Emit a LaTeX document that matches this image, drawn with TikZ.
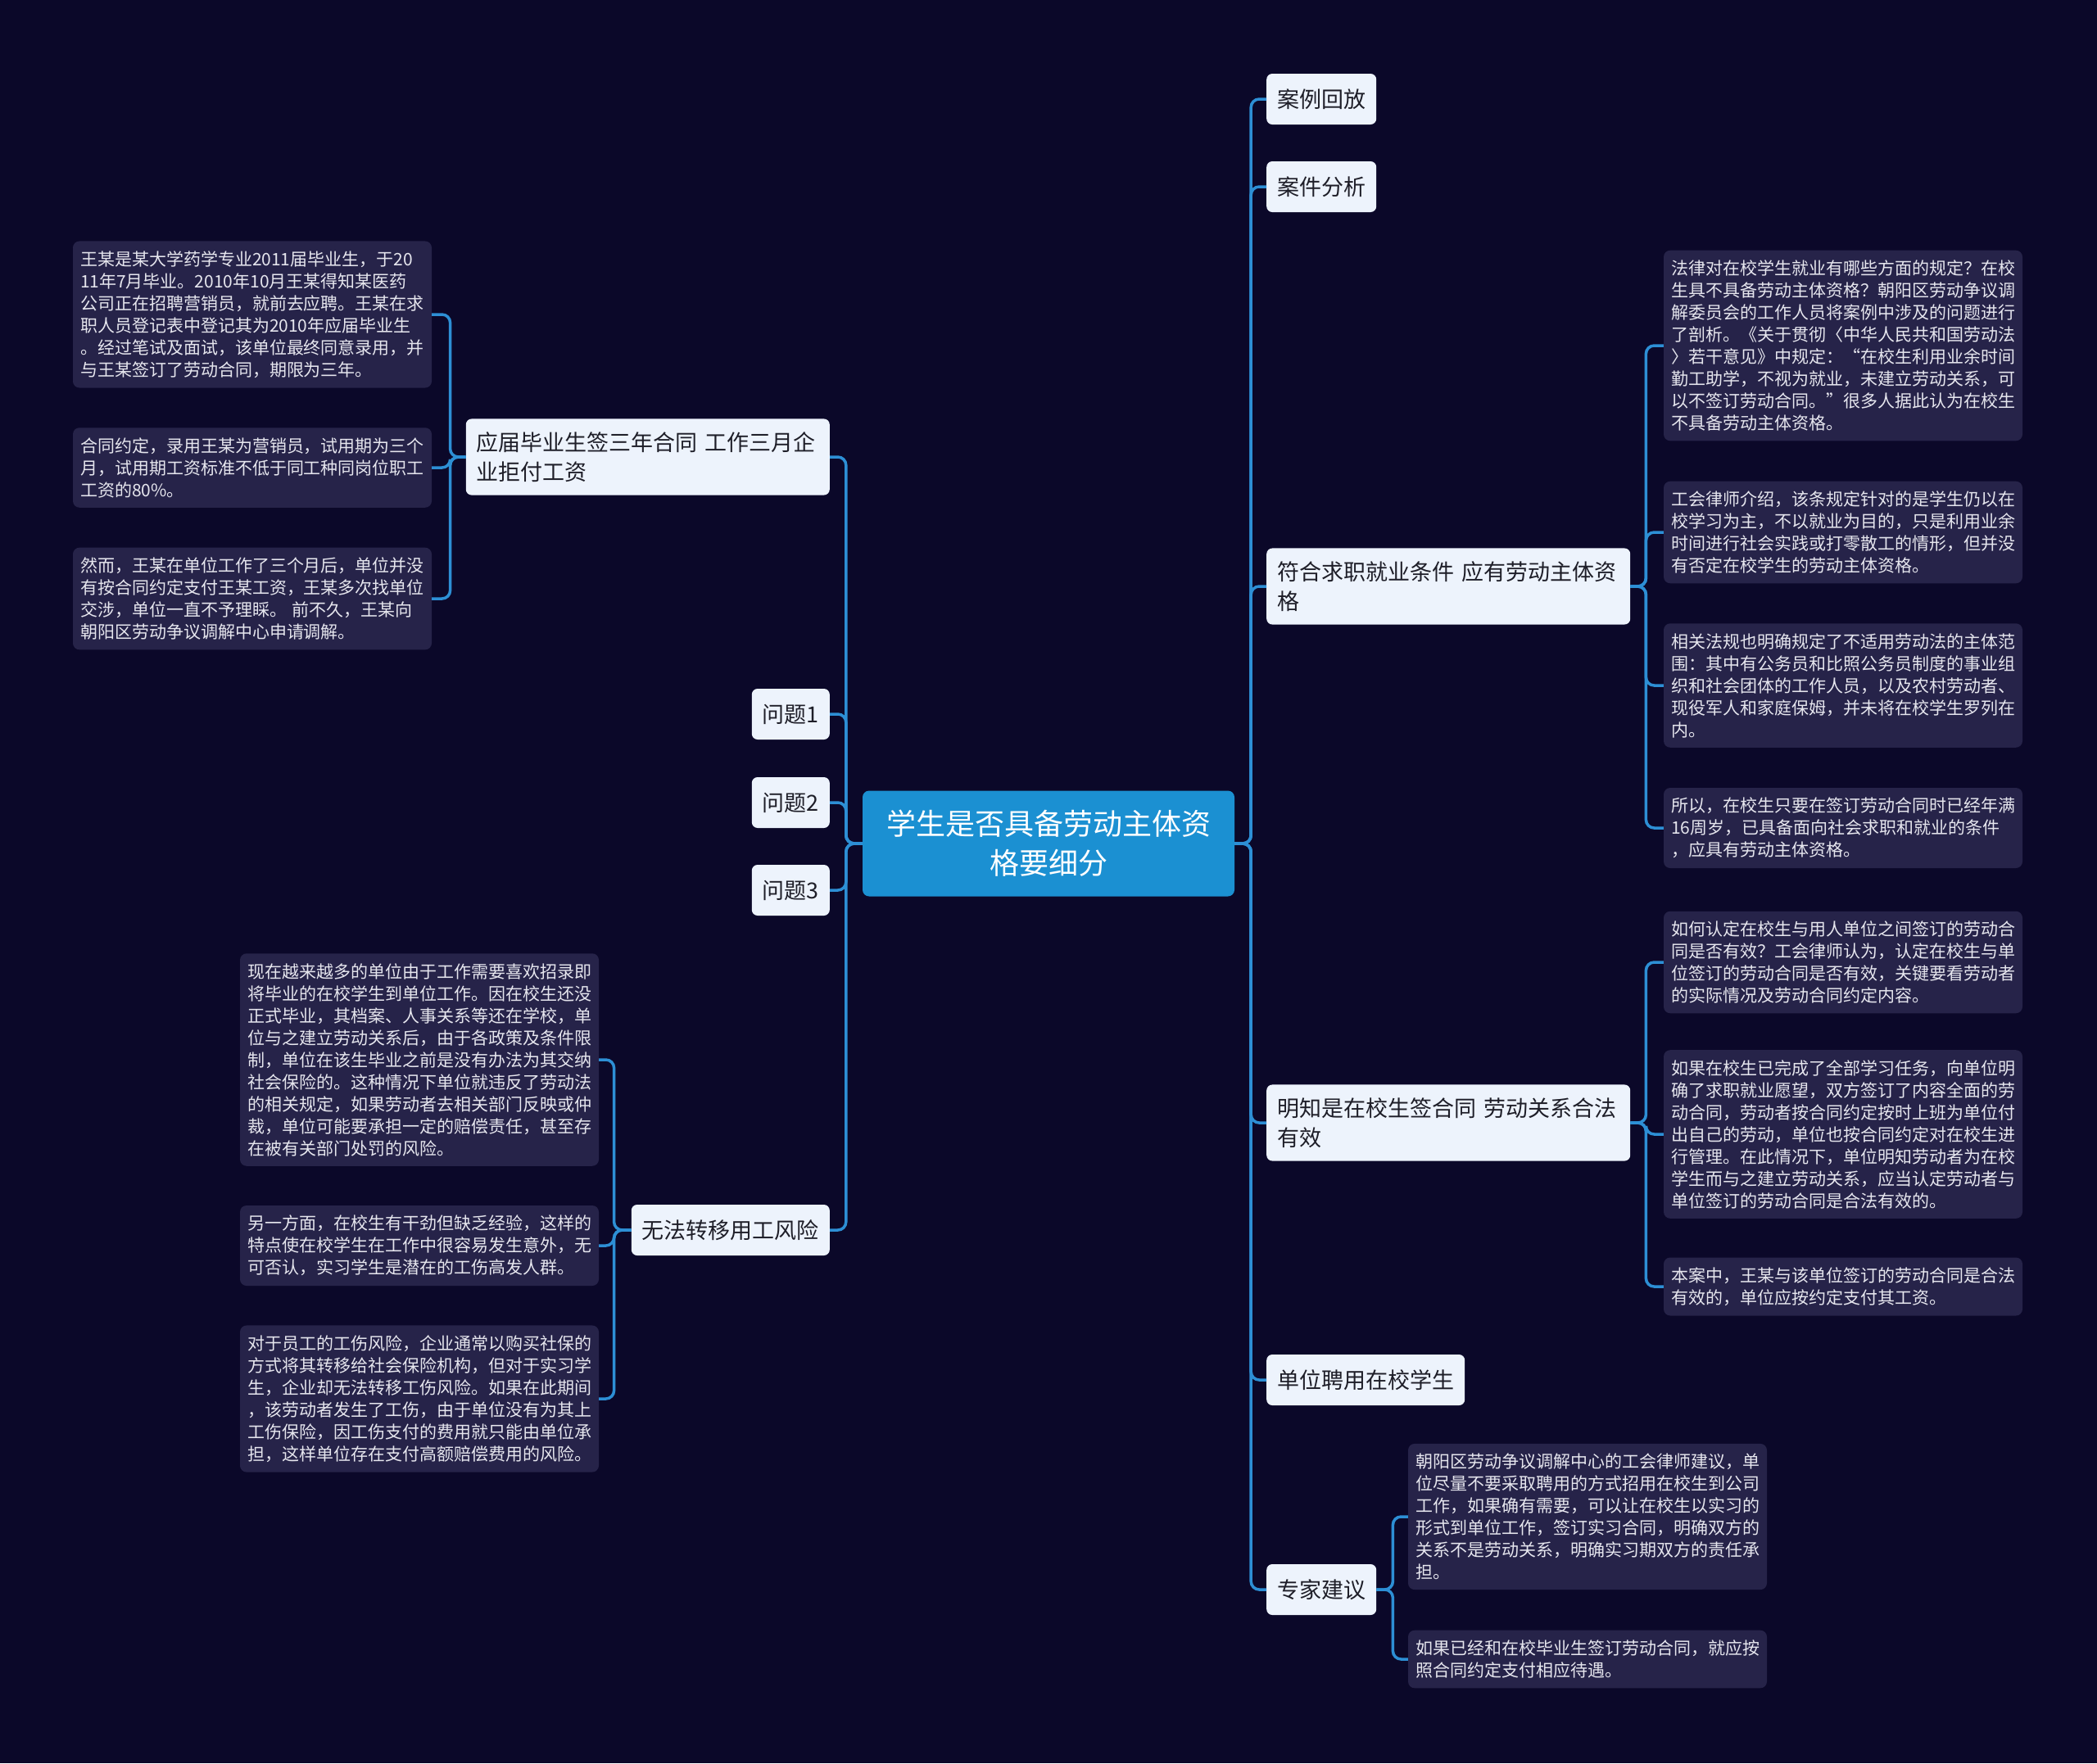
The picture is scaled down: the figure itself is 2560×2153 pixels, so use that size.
\documentclass[tikz,border=0pt]{standalone}
\usepackage{fontspec}
\setmainfont{Noto Sans CJK SC}
\usetikzlibrary{positioning}
\definecolor{bgcol}{HTML}{0B0829}
\definecolor{topicbg}{HTML}{1B90D2}
\definecolor{linkcol}{HTML}{2D8FD5}
\definecolor{branchbg}{HTML}{EDF3FC}
\definecolor{branchtext}{HTML}{1E1E28}
\definecolor{leafbg}{HTML}{262349}
\definecolor{leaftext}{HTML}{E6E6EE}
\begin{document}
\begin{tikzpicture}[x=1pt,y=-1pt,
  topic/.style={fill=topicbg,text=white,rounded corners=8,text width=420,align=center,inner xsep=17,minimum height=129,font=\fontsize{36}{48}\selectfont},
  branch/.style={fill=branchbg,text=branchtext,rounded corners=7,inner xsep=13,inner ysep=16,minimum height=62,font=\fontsize{27}{36}\selectfont},
  wide/.style={text width=418,align=left},
  leaf/.style={fill=leafbg,text=leaftext,rounded corners=8,text width=420,inner xsep=9,inner ysep=12,align=left,font=\fontsize{21}{27}\selectfont},
  link/.style={draw=linkcol,line width=3.5,rounded corners=10}]
\fill[bgcol] (0,0) rectangle (2560,2153);
\useasboundingbox (0,0) rectangle (2560,2153);
\node[topic] (root) at (1280,1030) {学生是否具备劳动主体资\\格要细分};
% right side
\node[branch,anchor=west] (case) at (1546,121) {案例回放};
\node[branch,anchor=west] (analysis) at (1546,228) {案件分析};
\node[branch,wide,anchor=west] (meets) at (1546,716) {符合求职就业条件 应有劳动主体资\\格};
\node[branch,wide,anchor=west] (knows) at (1546,1371) {明知是在校生签合同 劳动关系合法\\有效};
\node[branch,anchor=west] (hires) at (1546,1685) {单位聘用在校学生};
\node[branch,anchor=west] (advice) at (1546,1941) {专家建议};
% left side
\node[branch,wide,anchor=east] (contract) at (1013,558) {应届毕业生签三年合同 工作三月企\\业拒付工资};
\node[branch,anchor=east] (q1) at (1013,872) {问题1};
\node[branch,anchor=east] (q2) at (1013,980) {问题2};
\node[branch,anchor=east] (q3) at (1013,1087) {问题3};
\node[branch,anchor=east] (risk) at (1013,1502) {无法转移用工风险};
% leaves
\node[leaf] (meetsA) at (2250,422) {法律对在校学生就业有哪些方面的规定？在校\\生具不具备劳动主体资格？朝阳区劳动争议调\\解委员会的工作人员将案例中涉及的问题进行\\了剖析。《关于贯彻〈中华人民共和国劳动法\\〉若干意见》中规定：“在校生利用业余时间\\勤工助学，不视为就业，未建立劳动关系，可\\以不签订劳动合同。”很多人据此认为在校生\\不具备劳动主体资格。};
\node[leaf] (meetsB) at (2250,650) {工会律师介绍，该条规定针对的是学生仍以在\\校学习为主，不以就业为目的，只是利用业余\\时间进行社会实践或打零散工的情形，但并没\\有否定在校学生的劳动主体资格。};
\node[leaf] (meetsC) at (2250,837) {相关法规也明确规定了不适用劳动法的主体范\\围：其中有公务员和比照公务员制度的事业组\\织和社会团体的工作人员，以及农村劳动者、\\现役军人和家庭保姆，并未将在校学生罗列在\\内。};
\node[leaf] (meetsD) at (2250,1011) {所以，在校生只要在签订劳动合同时已经年满\\16周岁，已具备面向社会求职和就业的条件\\，应具有劳动主体资格。};
\node[leaf] (knowsA) at (2250,1175) {如何认定在校生与用人单位之间签订的劳动合\\同是否有效？工会律师认为，认定在校生与单\\位签订的劳动合同是否有效，关键要看劳动者\\的实际情况及劳动合同约定内容。};
\node[leaf] (knowsB) at (2250,1385) {如果在校生已完成了全部学习任务，向单位明\\确了求职就业愿望，双方签订了内容全面的劳\\动合同，劳动者按合同约定按时上班为单位付\\出自己的劳动，单位也按合同约定对在校生进\\行管理。在此情况下，单位明知劳动者为在校\\学生而与之建立劳动关系，应当认定劳动者与\\单位签订的劳动合同是合法有效的。};
\node[leaf] (knowsC) at (2250,1571) {本案中，王某与该单位签订的劳动合同是合法\\有效的，单位应按约定支付其工资。};
\node[leaf] (adviceA) at (1938,1852) {朝阳区劳动争议调解中心的工会律师建议，单\\位尽量不要采取聘用的方式招用在校生到公司\\工作，如果确有需要，可以让在校生以实习的\\形式到单位工作，签订实习合同，明确双方的\\关系不是劳动关系，明确实习期双方的责任承\\担。};
\node[leaf] (adviceB) at (1938,2026) {如果已经和在校毕业生签订劳动合同，就应按\\照合同约定支付相应待遇。};
\node[leaf] (contractA) at (308,384) {王某是某大学药学专业2011届毕业生，于20\\11年7月毕业。2010年10月王某得知某医药\\公司正在招聘营销员，就前去应聘。王某在求\\职人员登记表中登记其为2010年应届毕业生\\。经过笔试及面试，该单位最终同意录用，并\\与王某签订了劳动合同，期限为三年。};
\node[leaf] (contractB) at (308,571) {合同约定，录用王某为营销员，试用期为三个\\月，试用期工资标准不低于同工种同岗位职工\\工资的80\%。};
\node[leaf] (contractC) at (308,731) {然而，王某在单位工作了三个月后，单位并没\\有按合同约定支付王某工资，王某多次找单位\\交涉，单位一直不予理睬。 前不久，王某向\\朝阳区劳动争议调解中心申请调解。};
\node[leaf] (riskA) at (512,1294) {现在越来越多的单位由于工作需要喜欢招录即\\将毕业的在校学生到单位工作。因在校生还没\\正式毕业，其档案、人事关系等还在学校，单\\位与之建立劳动关系后，由于各政策及条件限\\制，单位在该生毕业之前是没有办法为其交纳\\社会保险的。这种情况下单位就违反了劳动法\\的相关规定，如果劳动者去相关部门反映或仲\\裁，单位可能要承担一定的赔偿责任，甚至存\\在被有关部门处罚的风险。};
\node[leaf] (riskB) at (512,1521) {另一方面，在校生有干劲但缺乏经验，这样的\\特点使在校学生在工作中很容易发生意外，无\\可否认，实习学生是潜在的工伤高发人群。};
\node[leaf] (riskC) at (512,1708) {对于员工的工伤风险，企业通常以购买社保的\\方式将其转移给社会保险机构，但对于实习学\\生，企业却无法转移工伤风险。如果在此期间\\，该劳动者发生了工伤，由于单位没有为其上\\工伤保险，因工伤支付的费用就只能由单位承\\担，这样单位存在支付高额赔偿费用的风险。};
% connectors
\foreach \c in {case,analysis,meets,knows,hires,advice}\draw[link] (root.east) -- ++(20,0) |- (\c.west);
\foreach \c in {contract,q1,q2,q3,risk}\draw[link] (root.west) -- ++(-20,0) |- (\c.east);
\foreach \c in {meetsA,meetsB,meetsC,meetsD}\draw[link] (meets.east) -- ++(19,0) |- (\c.west);
\foreach \c in {knowsA,knowsB,knowsC}\draw[link] (knows.east) -- ++(19,0) |- (\c.west);
\foreach \c in {adviceA,adviceB}\draw[link] (advice.east) -- ++(20,0) |- (\c.west);
\foreach \c in {contractA,contractB,contractC}\draw[link] (contract.west) -- ++(-19,0) |- (\c.east);
\foreach \c in {riskA,riskB,riskC}\draw[link] (risk.west) -- ++(-21,0) |- (\c.east);
\end{tikzpicture}
\end{document}
